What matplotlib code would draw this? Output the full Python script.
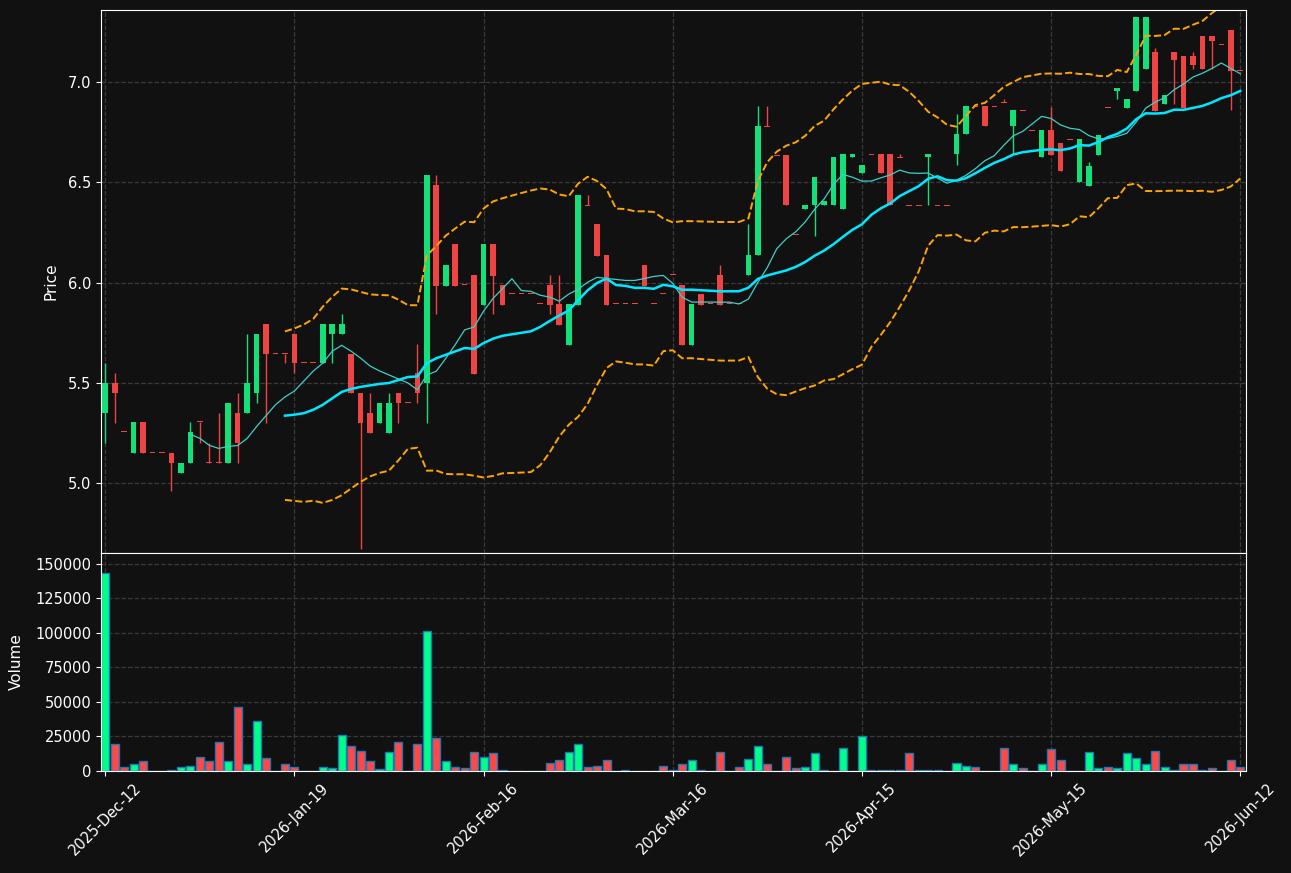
import numpy as np
import pandas as pd
import matplotlib
matplotlib.use("Agg")
import matplotlib.pyplot as plt

# Daily OHLCV
opens = [5.35, 5.50, 5.255, 5.15, 5.305, 5.15, 5.15, 5.15, 5.05, 5.10,
         5.305, 5.10, 5.10, 5.10, 5.35, 5.35, 5.45, 5.795, 5.645, 5.645,
         5.745, 5.60, 5.60, 5.60, 5.745, 5.745, 5.645, 5.45, 5.35, 5.30,
         5.25, 5.45, 5.40, 5.55, 5.50, 6.485, 5.985, 6.19, 5.99, 6.04,
         5.89, 6.19, 5.99, 5.945, 5.945, 5.945, 5.895, 5.99, 5.895, 5.69,
         5.89, 6.385, 6.29, 6.14, 5.895, 5.895, 5.895, 6.09, 5.895, 5.945,
         6.04, 5.99, 5.69, 5.945, 5.895, 6.04, 5.895, 5.895, 6.04, 6.14,
         6.78, 6.635, 6.635, 6.24, 6.365, 6.385, 6.385, 6.385, 6.365, 6.625,
         6.545, 6.64, 6.64, 6.64, 6.625, 6.385, 6.385, 6.625, 6.385, 6.385,
         6.64, 6.74, 6.88, 6.88, 6.88, 6.90, 6.78, 6.86, 6.76, 6.625,
         6.76, 6.695, 6.715, 6.50, 6.48, 6.635, 6.875, 6.955, 6.87, 6.955,
         7.065, 7.15, 6.89, 7.15, 7.13, 7.13, 7.23, 7.23, 7.19, 7.26,
         7.06]
highs = [5.60, 5.55, 5.255, 5.305, 5.305, 5.15, 5.15, 5.15, 5.10, 5.305,
         5.305, 5.20, 5.35, 5.40, 5.45, 5.745, 5.745, 5.795, 5.645, 5.645,
         5.745, 5.60, 5.60, 5.795, 5.795, 5.845, 5.645, 5.45, 5.45, 5.40,
         5.45, 5.45, 5.40, 5.695, 6.535, 6.535, 6.09, 6.19, 5.99, 6.04,
         6.19, 6.19, 5.99, 5.945, 5.945, 5.945, 5.895, 6.04, 6.04, 5.895,
         6.435, 6.435, 6.29, 6.14, 5.895, 5.895, 5.895, 6.09, 5.895, 5.945,
         6.04, 5.99, 5.895, 5.945, 5.895, 6.09, 5.895, 5.895, 6.29, 6.88,
         6.88, 6.635, 6.635, 6.24, 6.385, 6.525, 6.405, 6.625, 6.64, 6.64,
         6.585, 6.64, 6.64, 6.64, 6.64, 6.385, 6.385, 6.64, 6.385, 6.385,
         6.84, 6.88, 6.88, 6.88, 6.88, 6.915, 6.86, 6.86, 6.76, 6.76,
         6.875, 6.695, 6.715, 6.715, 6.60, 6.735, 6.875, 6.97, 6.915, 7.325,
         7.325, 7.17, 6.935, 7.15, 7.13, 7.15, 7.23, 7.23, 7.19, 7.26,
         7.06]
lows = [5.20, 5.30, 5.255, 5.15, 5.15, 5.15, 5.15, 4.96, 5.05, 5.10,
        5.20, 5.10, 5.10, 5.10, 5.10, 5.35, 5.40, 5.30, 5.645, 5.60,
        5.55, 5.60, 5.60, 5.60, 5.60, 5.745, 5.45, 4.67, 5.25, 5.30,
        5.25, 5.30, 5.40, 5.40, 5.30, 5.845, 5.985, 5.985, 5.99, 5.545,
        5.89, 5.845, 5.89, 5.945, 5.945, 5.945, 5.895, 5.845, 5.79, 5.69,
        5.89, 6.385, 6.135, 5.89, 5.895, 5.895, 5.895, 5.985, 5.895, 5.945,
        6.04, 5.69, 5.69, 5.89, 5.895, 5.89, 5.895, 5.895, 6.04, 6.14,
        6.78, 6.635, 6.385, 6.24, 6.365, 6.23, 6.385, 6.385, 6.365, 6.625,
        6.545, 6.64, 6.545, 6.385, 6.625, 6.385, 6.385, 6.385, 6.385, 6.385,
        6.585, 6.74, 6.88, 6.78, 6.88, 6.90, 6.64, 6.86, 6.76, 6.625,
        6.635, 6.555, 6.715, 6.50, 6.48, 6.635, 6.875, 6.915, 6.87, 6.955,
        7.065, 6.855, 6.89, 6.89, 6.87, 7.065, 7.065, 7.065, 7.19, 6.86,
        7.06]
closes = [5.50, 5.45, 5.255, 5.305, 5.15, 5.15, 5.15, 5.10, 5.10, 5.255,
          5.305, 5.10, 5.10, 5.40, 5.20, 5.50, 5.745, 5.645, 5.645, 5.645,
          5.60, 5.60, 5.60, 5.795, 5.795, 5.795, 5.45, 5.30, 5.25, 5.40,
          5.40, 5.40, 5.40, 5.45, 6.535, 5.985, 6.09, 5.985, 5.99, 5.545,
          6.19, 6.035, 5.89, 5.945, 5.945, 5.945, 5.895, 5.89, 5.79, 5.895,
          6.435, 6.385, 6.135, 5.89, 5.895, 5.895, 5.895, 5.985, 5.895, 5.945,
          6.04, 5.69, 5.895, 5.89, 5.895, 5.89, 5.895, 5.895, 6.14, 6.78,
          6.78, 6.635, 6.385, 6.24, 6.385, 6.525, 6.405, 6.625, 6.64, 6.64,
          6.585, 6.64, 6.545, 6.385, 6.625, 6.385, 6.385, 6.64, 6.385, 6.385,
          6.74, 6.88, 6.88, 6.78, 6.88, 6.90, 6.86, 6.86, 6.76, 6.76,
          6.635, 6.555, 6.715, 6.715, 6.58, 6.735, 6.875, 6.97, 6.915, 7.325,
          7.325, 6.855, 6.935, 7.11, 6.87, 7.085, 7.065, 7.205, 7.19, 7.055,
          7.06]
volumes = [143500, 18900, 2900, 4400, 6600, 0, 0, 700, 2400, 3600,
           10000, 7100, 20900, 7100, 46400, 4900, 36200, 9300, 0, 4900,
           2900, 0, 0, 2700, 2000, 26000, 18000, 14300, 6600, 900,
           13100, 20900, 0, 19400, 101300, 23300, 6600, 2400, 1700, 13100,
           10000, 12400, 700, 0, 0, 0, 0, 5800, 8000, 13800,
           18900, 2900, 3600, 7300, 0, 500, 0, 0, 0, 3600,
           300, 4900, 7300, 700, 0, 13800, 0, 2900, 8700, 17500,
           4400, 0, 10000, 2000, 2900, 12400, 700, 0, 16000, 0,
           24800, 500, 500, 500, 500, 12400, 500, 500, 500, 0,
           5800, 3600, 2700, 0, 0, 16000, 4400, 2000, 0, 4900,
           15300, 8000, 0, 0, 13800, 2000, 2900, 2000, 12400, 9300,
           4900, 14300, 2700, 500, 4900, 4900, 500, 2000, 0, 7300,
           2700]

tick_labels = ["2025-Dec-12", "2026-Jan-19", "2026-Feb-16", "2026-Mar-16",
               "2026-Apr-15", "2026-May-15", "2026-Jun-12"]
tick_step = 20

df = pd.DataFrame({"Open": opens, "High": highs, "Low": lows,
                   "Close": closes, "Volume": volumes})
n = len(df)
x = np.arange(n)

# indicators
ma10 = df["Close"].rolling(10).mean()
ma20 = df["Close"].rolling(20).mean()
std20 = df["Close"].rolling(20).std(ddof=0)
upper = ma20 + 2 * std20
lower = ma20 - 2 * std20

BG = "#111111"
UP, DOWN = "#14e07a", "#ee4444"
VUP, VDOWN = "#00ff88", "#ff4848"
GRID = "#3a3a3a"

is_up = (df["Close"] > df["Open"]).values
ccols = np.where(is_up, UP, DOWN)
vcols = np.where(is_up, VUP, VDOWN)

fig = plt.figure(figsize=(12.91, 8.73), dpi=100, facecolor=BG)
ax1 = fig.add_axes([0.0782, 0.3671, 0.8869, 0.6215])
ax2 = fig.add_axes([0.0782, 0.1174, 0.8869, 0.2497], sharex=ax1)

for ax in (ax1, ax2):
    ax.set_facecolor(BG)
    ax.set_axisbelow(True)
    ax.grid(True, color=GRID, linestyle="--", linewidth=0.9)
    for s in ax.spines.values():
        s.set_color("white")
    ax.tick_params(colors="white", labelsize=10.5)

# candles
ax1.vlines(x, df["Low"], df["High"], colors=ccols, linewidth=1)
body = (df["Close"] - df["Open"]).abs().values
h = np.maximum(body, 0.006)
bottom = np.minimum(df["Open"], df["Close"]).values - (h - body) / 2
ax1.bar(x, h, bottom=bottom, width=0.6, color=ccols, linewidth=0)

ax1.plot(x, ma10, color="#3fcfc6", linewidth=0.9)
ax1.plot(x, ma20, color="#00e8ff", linewidth=1.8)
ax1.plot(x, upper, color="#ffa500", linestyle="--", linewidth=1.4)
ax1.plot(x, lower, color="#ffa500", linestyle="--", linewidth=1.4)

ax1.set_ylim(4.6515, 7.3615)
ax1.set_yticks([5.0, 5.5, 6.0, 6.5, 7.0])
ax1.set_ylabel("Price", color="white", fontsize=11, labelpad=7)
ax1.tick_params(axis="x", labelbottom=False, length=0)

# volume
ax2.bar(x, df["Volume"], width=0.85, color=vcols, edgecolor="#1f77b4", linewidth=1)
ax2.set_ylim(0, 158400)
ax2.set_yticks(range(0, 150001, 25000))
ax2.set_ylabel("Volume", color="white", fontsize=11, labelpad=8)
ax2.set_xlim(-0.45, 120.6)
ax2.set_xticks(range(0, n, tick_step))
ax2.set_xticklabels(tick_labels, rotation=45)

fig.savefig("out.png", dpi=100, facecolor=BG)
